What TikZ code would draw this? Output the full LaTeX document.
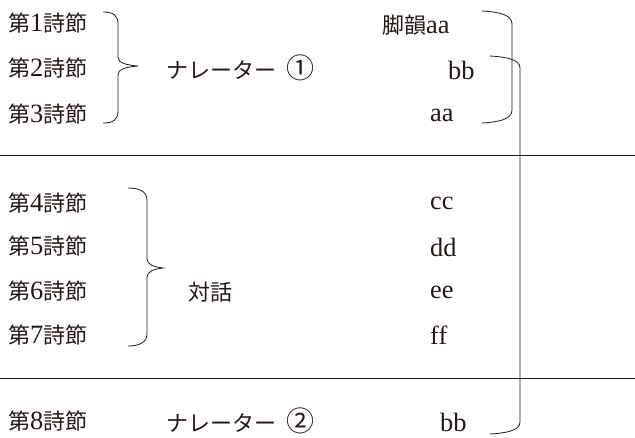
\documentclass[tikz,border=0pt]{standalone}
\usepackage{fontspec}
\setmainfont{Liberation Serif}[Scale=1.2]
\newfontfamily\cjk{Noto Sans CJK JP}
\definecolor{ink}{HTML}{231815}
\newcommand\mystanza[1]{{\cjk 第}#1{\cjk 詩節}}
\newcommand\mycirc[1]{{\fontsize{28}{30}\selectfont\cjk #1}}
% #1 x0, #2 xv, #3 xtip, #4 ytop, #5 ytip, #6 ybot
\newcommand\mybrace[6]{%
\draw[bracket] (#1,#4) .. controls ({#1+10},#4) and (#2,{#4+3}) .. (#2,{#4+12}) -- (#2,{#5-9})
 .. controls (#2,{#5-3}) and ({#2+8},{#5-1}) .. (#3,#5)
 .. controls ({#2+8},{#5+1}) and (#2,{#5+3}) .. (#2,{#5+9}) -- (#2,{#6-12})
 .. controls (#2,{#6-3}) and ({#1+10},#6) .. (#1,#6);}
\begin{document}
\begin{tikzpicture}[x=1pt,y=-1pt,
  bracket/.style={draw=ink, line width=0.8pt},
  rule/.style={draw=ink, line width=0.8pt},
  lbl/.style={inner sep=0pt, anchor=west, text=ink, font=\fontsize{22}{26}\selectfont}]
\useasboundingbox (0,0) rectangle (635,437);
% left labels
\node[lbl] (s1) at (8,23) {\mystanza{1}};
\node[lbl] (s2) at (8,68) {\mystanza{2}};
\node[lbl] (s3) at (8,114) {\mystanza{3}};
\node[lbl] (s4) at (8,203) {\mystanza{4}};
\node[lbl] (s5) at (8,246) {\mystanza{5}};
\node[lbl] (s6) at (8,291) {\mystanza{6}};
\node[lbl] (s7) at (8,335) {\mystanza{7}};
\node[lbl] (s8) at (8,421) {\mystanza{8}};
% middle labels
\node[lbl] (n1) at (166,68) {\cjk ナレーター\hspace{0.45em}\mycirc{①}};
\node[lbl] (dlg) at (188,292) {\cjk 対話};
\node[lbl] (n2) at (166,421) {\cjk ナレーター\hspace{0.45em}\mycirc{②}};
% rhyme labels
\node[lbl] (r1) at (382,25) {{\cjk 脚韻}aa};
\node[lbl] (r2) at (448,70) {bb};
\node[lbl] (r3) at (430,115) {aa};
\node[lbl] (r4) at (430,203) {cc};
\node[lbl] (r5) at (430,247) {dd};
\node[lbl] (r6) at (430,292) {ee};
\node[lbl] (r7) at (430,335) {ff};
\node[lbl] (r8) at (440,422) {bb};
% horizontal rules
\coordinate (h1l) at (0,155); \coordinate (h1r) at (635,155);
\coordinate (h2l) at (0,378); \coordinate (h2r) at (635,378);
\draw[rule] (h1l) -- (h1r);
\draw[rule] (h2l) -- (h2r);
% left braces
\mybrace{103}{118}{138}{12}{66}{123}
\mybrace{128}{147}{163}{188}{268}{346}
% right brackets
\draw[bracket] (482,11) .. controls (500,12) and (512,15) .. (512,24) -- (512,110)
  .. controls (512,119) and (500,122) .. (482,123);
\draw[bracket] (490,56) .. controls (508,57) and (520,60) .. (520,68) -- (520,422)
  .. controls (520,430) and (508,433) .. (490,434);
\end{tikzpicture}
\end{document}
